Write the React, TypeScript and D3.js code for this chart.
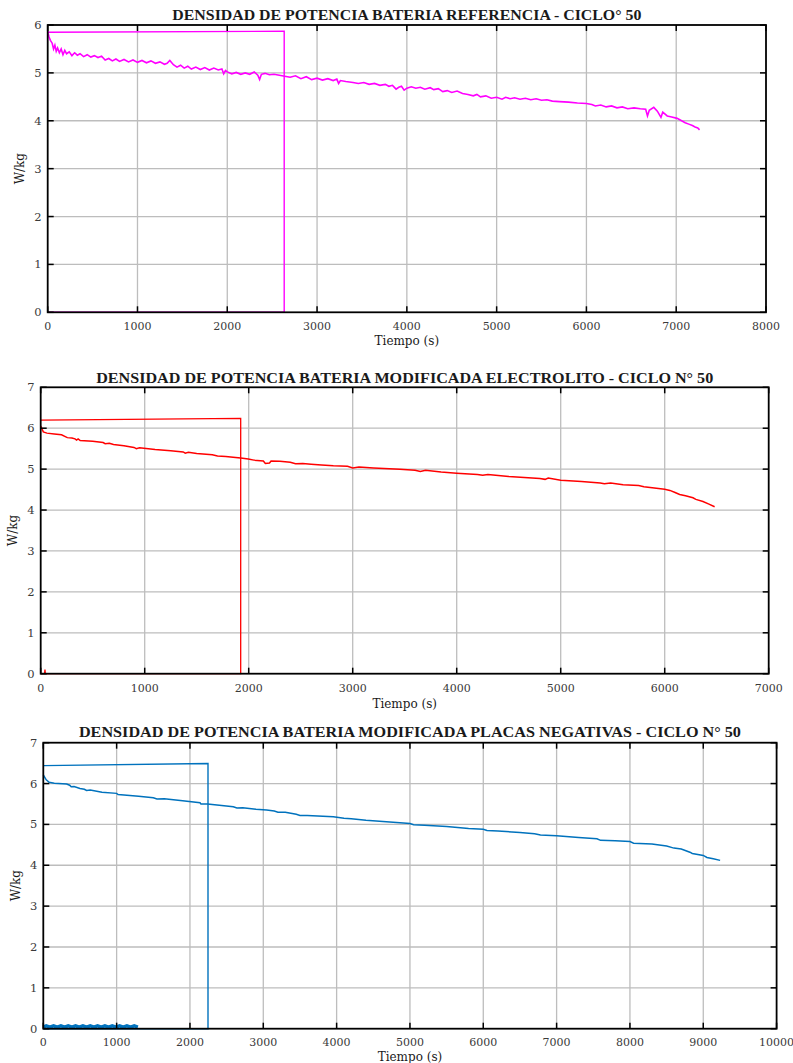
import React from "react";
import * as d3 from "d3";

type P = [number, number];

// ---------- Chart 1: reference battery (magenta) ----------
const refTitle = "DENSIDAD DE POTENCIA BATERIA REFERENCIA - CICLO° 50";
const refXTicks = [0, 1000, 2000, 3000, 4000, 5000, 6000, 7000, 8000];
const refYTicks = [0, 1, 2, 3, 4, 5, 6];
const refLoop: P[] = [[0, 5.85], [2634, 5.87], [2634, 0], [0, 0]];
const refCurve: P[] = [
  [0, 5.86], [15, 5.75], [30, 5.68], [50, 5.62], [65, 5.5], [80, 5.58], [95, 5.45], [110, 5.52],
  [130, 5.42], [150, 5.5], [170, 5.38], [190, 5.47], [210, 5.4], [240, 5.44], [270, 5.36],
  [300, 5.42], [330, 5.37], [360, 5.4], [400, 5.34], [440, 5.38], [480, 5.33], [520, 5.36],
  [560, 5.32], [600, 5.35], [640, 5.27], [680, 5.3], [720, 5.25], [760, 5.29], [800, 5.24],
  [850, 5.28], [900, 5.23], [950, 5.27], [1000, 5.22], [1050, 5.26], [1100, 5.21], [1150, 5.25],
  [1200, 5.2], [1250, 5.23], [1300, 5.18], [1330, 5.2], [1360, 5.26], [1400, 5.17], [1440, 5.12],
  [1480, 5.16], [1520, 5.1], [1560, 5.14], [1600, 5.08], [1650, 5.12], [1700, 5.07], [1750, 5.11],
  [1800, 5.06], [1850, 5.1], [1900, 5.06], [1940, 5.08], [1960, 4.98], [1980, 5.05], [2000, 5.02],
  [2050, 4.98], [2100, 5.01], [2150, 4.97], [2200, 5.0], [2250, 4.97], [2300, 5.02], [2340, 4.95],
  [2360, 4.86], [2380, 4.97], [2420, 4.99], [2470, 4.96], [2520, 4.97], [2580, 4.95], [2640, 4.93],
  [2700, 4.91], [2760, 4.94], [2820, 4.88], [2880, 4.92], [2940, 4.86], [3000, 4.89], [3060, 4.85],
  [3120, 4.88], [3180, 4.84], [3220, 4.87], [3240, 4.78], [3260, 4.84], [3320, 4.82], [3400, 4.8],
  [3460, 4.78], [3520, 4.8], [3580, 4.76], [3640, 4.78], [3700, 4.74], [3760, 4.76], [3800, 4.72],
  [3840, 4.74], [3880, 4.66], [3910, 4.7], [3940, 4.72], [3970, 4.64], [4000, 4.68], [4050, 4.71],
  [4100, 4.68], [4150, 4.7], [4200, 4.66], [4260, 4.69], [4300, 4.65], [4350, 4.67], [4400, 4.61],
  [4450, 4.63], [4500, 4.59], [4560, 4.62], [4620, 4.57], [4680, 4.55], [4740, 4.52], [4780, 4.55],
  [4820, 4.5], [4880, 4.52], [4940, 4.47], [5000, 4.49], [5060, 4.45], [5100, 4.49], [5150, 4.46],
  [5200, 4.48], [5260, 4.45], [5320, 4.47], [5380, 4.44], [5440, 4.46], [5500, 4.43], [5560, 4.44],
  [5620, 4.41], [5700, 4.4], [5800, 4.39], [5900, 4.37], [6000, 4.36], [6060, 4.34], [6100, 4.31],
  [6160, 4.33], [6220, 4.29], [6280, 4.31], [6340, 4.27], [6400, 4.29], [6460, 4.25], [6530, 4.27],
  [6600, 4.25], [6660, 4.24], [6680, 4.1], [6700, 4.22], [6750, 4.28], [6790, 4.2], [6830, 4.07],
  [6850, 4.18], [6900, 4.1], [6950, 4.08], [7010, 4.05], [7060, 4.0], [7100, 3.96], [7140, 3.93],
  [7180, 3.9], [7210, 3.87], [7240, 3.85], [7260, 3.81]
];

// ---------- Chart 2: modified electrolyte (red) ----------
const elecTitle = "DENSIDAD DE POTENCIA BATERIA MODIFICADA ELECTROLITO - CICLO N° 50";
const elecXTicks = [0, 1000, 2000, 3000, 4000, 5000, 6000, 7000];
const elecYTicks = [0, 1, 2, 3, 4, 5, 6, 7];
const elecLoop: P[] = [[0, 6.2], [1923, 6.24], [1923, 0], [45, 0], [41, 0.1], [37, 0], [0, 0]];
const elecCurve: P[] = [
  [0, 6.05], [10, 6.0], [25, 5.91], [60, 5.88], [130, 5.86], [200, 5.84], [256, 5.77], [300, 5.76],
  [330, 5.74], [345, 5.71], [360, 5.74], [380, 5.7], [500, 5.68], [600, 5.65], [620, 5.62],
  [660, 5.63], [700, 5.6], [800, 5.57], [897, 5.53], [920, 5.5], [950, 5.52], [1100, 5.48],
  [1250, 5.45], [1370, 5.42], [1390, 5.39], [1420, 5.41], [1500, 5.38], [1650, 5.35], [1700, 5.32],
  [1780, 5.31], [1850, 5.29], [1923, 5.27], [1996, 5.25], [2050, 5.22], [2141, 5.2], [2160, 5.14],
  [2200, 5.15], [2215, 5.2], [2300, 5.19], [2400, 5.17], [2450, 5.13], [2520, 5.14], [2600, 5.12],
  [2700, 5.1], [2814, 5.08], [2950, 5.07], [3000, 5.03], [3060, 5.05], [3200, 5.03], [3454, 5.0],
  [3600, 4.97], [3650, 4.94], [3700, 4.97], [3850, 4.93], [4000, 4.9], [4200, 4.87], [4250, 4.85],
  [4300, 4.87], [4500, 4.82], [4800, 4.77], [4850, 4.75], [4880, 4.78], [5000, 4.73], [5200, 4.7],
  [5380, 4.66], [5420, 4.64], [5480, 4.66], [5600, 4.62], [5750, 4.6], [5800, 4.57], [6000, 4.51],
  [6050, 4.48], [6100, 4.43], [6144, 4.38], [6200, 4.35], [6272, 4.3], [6300, 4.26], [6368, 4.21],
  [6420, 4.15], [6480, 4.08]
];

// ---------- Chart 3: modified negative plates (blue) ----------
const negTitle = "DENSIDAD DE POTENCIA BATERIA MODIFICADA PLACAS NEGATIVAS - CICLO N° 50";
const negXTicks = [0, 1000, 2000, 3000, 4000, 5000, 6000, 7000, 8000, 9000, 10000];
const negYTicks = [0, 1, 2, 3, 4, 5, 6, 7];
const negLoop: P[] = [[0, 6.44], [2246, 6.49], [2246, 0], [0, 0]];
const negBase: P[] = [
  [0, 0.04], [40, 0.07], [90, 0.04], [140, 0.07], [190, 0.04], [240, 0.07], [290, 0.04],
  [340, 0.07], [390, 0.04], [440, 0.07], [490, 0.04], [540, 0.07], [590, 0.04], [640, 0.07],
  [690, 0.04], [740, 0.07], [790, 0.04], [840, 0.07], [890, 0.04], [940, 0.07], [990, 0.04],
  [1040, 0.07], [1090, 0.04], [1140, 0.07], [1190, 0.04], [1240, 0.07], [1290, 0.04]
];
const negCurve: P[] = [
  [0, 6.21], [20, 6.15], [40, 6.09], [80, 6.03], [150, 6.01], [318, 5.99], [360, 5.96], [380, 5.92],
  [420, 5.93], [500, 5.88], [560, 5.86], [590, 5.83], [640, 5.84], [800, 5.79], [1000, 5.76],
  [1020, 5.73], [1100, 5.72], [1300, 5.69], [1500, 5.65], [1550, 5.62], [1650, 5.63], [1900, 5.58],
  [2137, 5.53], [2150, 5.5], [2240, 5.5], [2400, 5.47], [2591, 5.43], [2640, 5.4], [2720, 5.41],
  [2900, 5.37], [3045, 5.35], [3150, 5.33], [3200, 5.3], [3300, 5.3], [3450, 5.25], [3500, 5.22],
  [3600, 5.22], [3955, 5.19], [4100, 5.15], [4200, 5.14], [4400, 5.1], [4864, 5.04], [5000, 5.02],
  [5050, 4.99], [5200, 4.98], [5500, 4.95], [5800, 4.9], [6000, 4.88], [6050, 4.85], [6200, 4.84],
  [6500, 4.8], [6700, 4.77], [6780, 4.74], [7000, 4.72], [7300, 4.68], [7550, 4.65], [7600, 4.61],
  [7800, 4.6], [8000, 4.58], [8050, 4.54], [8300, 4.52], [8500, 4.47], [8600, 4.42], [8700, 4.4],
  [8818, 4.32], [8850, 4.29], [9000, 4.24], [9050, 4.19], [9136, 4.16], [9230, 4.12]
];

const serif = "'Liberation Serif', 'Times New Roman', serif";
const tickFont = "'DejaVu Serif', serif";

type Series = { data: P[]; color: string; width: number };

type ChartProps = {
  left: number; right: number; top: number; bottom: number;
  xMax: number; yMax: number; xTicks: number[]; yTicks: number[];
  title: string; titleY: number; titleW: number; ylabX: number; xlabY: number; tickLabY: number;
  series: Series[];
};

function Chart(p: ChartProps) {
  const x = d3.scaleLinear().domain([0, p.xMax]).range([p.left, p.right]);
  const y = d3.scaleLinear().domain([0, p.yMax]).range([p.bottom, p.top]);
  const line = d3.line<P>().x((d) => x(d[0])).y((d) => y(d[1]));
  const tl = 6;
  const cx = (p.left + p.right) / 2;
  const cy = (p.top + p.bottom) / 2;
  return (
    <g>
      {p.xTicks.slice(1, -1).map((t) => (
        <line key={"gx" + t} x1={x(t)} x2={x(t)} y1={p.top} y2={p.bottom} stroke="#bdbdbd" strokeWidth={1.3} />
      ))}
      {p.yTicks.slice(1, -1).map((t) => (
        <line key={"gy" + t} x1={p.left} x2={p.right} y1={y(t)} y2={y(t)} stroke="#bdbdbd" strokeWidth={1.3} />
      ))}
      {p.series.map((s, i) => (
        <path key={i} d={line(s.data) || ""} fill="none" stroke={s.color} strokeWidth={s.width} strokeLinejoin="miter" />
      ))}
      {p.xTicks.map((t) => (
        <g key={"tx" + t}>
          <line x1={x(t)} x2={x(t)} y1={p.bottom} y2={p.bottom - tl} stroke="#000" strokeWidth={1.5} />
          <line x1={x(t)} x2={x(t)} y1={p.top} y2={p.top + tl} stroke="#000" strokeWidth={1.5} />
          <text x={x(t)} y={p.tickLabY} textAnchor="middle" fontFamily={tickFont} fontSize={11} fill="#3a3a3a">{t}</text>
        </g>
      ))}
      {p.yTicks.map((t) => (
        <g key={"ty" + t}>
          <line x1={p.left} x2={p.left + tl} y1={y(t)} y2={y(t)} stroke="#000" strokeWidth={1.5} />
          <line x1={p.right} x2={p.right - tl} y1={y(t)} y2={y(t)} stroke="#000" strokeWidth={1.5} />
          <text x={p.left - 6} y={y(t) + 4} textAnchor="end" fontFamily={tickFont} fontSize={11.5} fill="#3a3a3a">{t}</text>
        </g>
      ))}
      <rect x={p.left} y={p.top} width={p.right - p.left} height={p.bottom - p.top} fill="none" stroke="#000" strokeWidth={1.8} />
      <text x={cx} y={p.titleY} textAnchor="middle" fontFamily={serif} fontSize={14} fontWeight="bold" fill="#1a1a1a"
        textLength={p.titleW} lengthAdjust="spacingAndGlyphs">{p.title}</text>
      <text x={cx} y={p.xlabY} textAnchor="middle" fontFamily={tickFont} fontSize={12} fill="#1a1a1a">Tiempo (s)</text>
      <text transform={`translate(${p.ylabX},${cy}) rotate(-90)`} textAnchor="middle" fontFamily={tickFont} fontSize={12} fill="#1a1a1a">W/kg</text>
    </g>
  );
}

export default function App() {
  return (
    <svg width={793} height={1063} style={{ position: "absolute", left: 0, top: 0, background: "#fff" }}>
      <rect width={793} height={1063} fill="#fff" />
      <Chart left={47.7} right={766} top={25} bottom={312.3} xMax={8000} yMax={6}
        xTicks={refXTicks} yTicks={refYTicks} title={refTitle} titleY={20} titleW={469} ylabX={24} xlabY={345} tickLabY={330}
        series={[{ data: refLoop, color: "#ff00ff", width: 1.4 }, { data: refCurve, color: "#ff00ff", width: 1.6 }]} />
      <Chart left={40.7} right={768.7} top={387.3} bottom={673.7} xMax={7000} yMax={7}
        xTicks={elecXTicks} yTicks={elecYTicks} title={elecTitle} titleY={383} titleW={617} ylabX={17} xlabY={708} tickLabY={692}
        series={[{ data: elecLoop, color: "#ff0000", width: 1.3 }, { data: elecCurve, color: "#ff0000", width: 1.5 }]} />
      <Chart left={43.3} right={776.6} top={742.7} bottom={1028.7} xMax={10000} yMax={7}
        xTicks={negXTicks} yTicks={negYTicks} title={negTitle} titleY={737} titleW={662} ylabX={20} xlabY={1061} tickLabY={1046}
        series={[{ data: negLoop, color: "#0072bd", width: 1.4 }, { data: negBase, color: "#0072bd", width: 3.5 }, { data: negCurve, color: "#0072bd", width: 1.5 }]} />
    </svg>
  );
}
